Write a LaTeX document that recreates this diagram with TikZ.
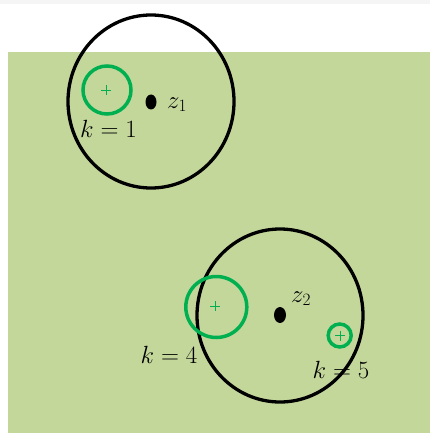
\documentclass[tikz,border=0pt]{standalone}
\usepackage{xcolor}
\definecolor{bgfill}{HTML}{C4D79B}
\definecolor{topgray}{HTML}{F5F5F5}
\definecolor{ring}{HTML}{00B050}
\begin{document}
\begin{tikzpicture}[x=1pt,y=-1pt,
  bigring/.style={draw=black,line width=3.3pt},
  smallring/.style={draw=ring,line width=3.5pt},
  plusmark/.style={draw=ring,line width=0.9pt},
  lab/.style={inner sep=0pt,font=\fontsize{23}{27}\selectfont},
  centre/.style={fill=black}]
\useasboundingbox (0,0) rectangle (430,433);
\fill[white] (0,0) rectangle (430,433);
\fill[topgray] (0,0) rectangle (430,4);
\fill[bgfill] (8,52) rectangle (430,433);
% labels
\node[lab,anchor=base] (k1) at (108.5,137) {$k=1$};
\node[lab,anchor=base] (k4) at (169,363) {$k=4$};
\node[lab,anchor=base] (k5) at (341,378) {$k=5$};
\node[lab,anchor=base west] (z1) at (167,108) {$z_1$};
\node[lab,anchor=base west] (z2) at (291,302) {$z_2$};
% big circles
\draw[bigring] (151,101.5) ellipse [x radius=83, y radius=86.5];
\draw[bigring] (280,315.5) ellipse [x radius=83, y radius=86.5];
% centres
\fill[centre] (151,102) ellipse [x radius=5.5, y radius=7.5];
\fill[centre] (280,315) ellipse [x radius=6, y radius=8];
% small green circles
\draw[smallring] (107,90) circle [radius=24];
\draw[smallring] (216.3,307) circle [radius=30.5];
\draw[smallring] (339.7,335.5) circle [radius=11.5];
% plus marks
\draw[plusmark] (101,90) -- (111,90) (106,85) -- (106,95);
\draw[plusmark] (210,306) -- (220,306) (215,301) -- (215,311);
\draw[plusmark] (335,335.5) -- (345,335.5) (340,330.5) -- (340,340.5);
\end{tikzpicture}
\end{document}
